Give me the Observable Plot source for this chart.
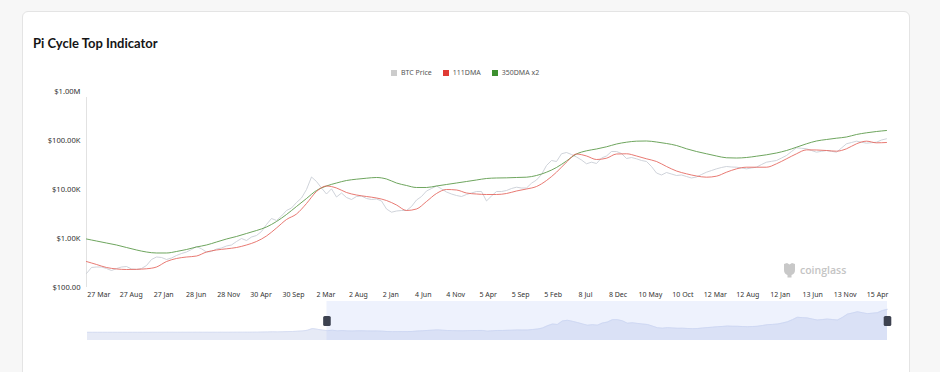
<!DOCTYPE html>
<html><head><meta charset="utf-8">
<script src="https://cdn.jsdelivr.net/npm/d3@7"></script>
<script src="https://cdn.jsdelivr.net/npm/@observablehq/plot@0.6"></script>
<style>
html,body{margin:0;padding:0}
body{background:#f7f7f7;width:940px;height:372px;overflow:hidden;position:relative;font-family:"Noto Sans",sans-serif}
#card{position:absolute;left:22px;top:11px;width:888px;height:372px;background:#fff;border:1px solid #e4e4e4;border-radius:6px;box-sizing:border-box}
#title{position:absolute;left:33px;top:35px;font-family:Lato,sans-serif;font-size:13px;font-weight:700;color:#151515;white-space:nowrap}
#legend{position:absolute;top:68px;left:391px;display:flex;align-items:center;font-size:7px;color:#555;white-space:nowrap;line-height:10px}
#legend .sq{width:6px;height:6px;display:inline-block;margin-right:4px}
#legend .it{display:flex;align-items:center;margin-right:11px}
.chart{position:absolute;left:0;top:0}
#wm{position:absolute;left:782px;top:262px;display:flex;align-items:center;color:#c4c4c4;font-family:"Open Sans",sans-serif;font-weight:600;font-size:10.5px}
</style></head>
<body>
<div id="card"></div>
<div id="title">Pi Cycle Top Indicator</div>
<div id="legend"></div>
<div id="c1" class="chart"></div>
<div id="c2" class="chart"></div>
<div id="wm"><svg width="15" height="16" viewBox="0 0 15 16"><path d="M2 2 L5 1 L7.5 2.5 L10 1 L13 2 L13 8 Q13 12 9.5 13 L9.5 15.5 L5.5 15.5 L5.5 13 Q2 12 2 8 Z" fill="#c8c8c8"/></svg><span style="margin-left:3px">coinglass</span></div>
<script>
// ---- data ----
const xLabels = ["27 Mar","27 Aug","27 Jan","28 Jun","28 Nov","30 Apr","30 Sep","2 Mar","2 Aug","2 Jan","4 Jun","4 Nov","5 Apr","5 Sep","5 Feb","8 Jul","8 Dec","10 May","10 Oct","12 Mar","12 Aug","12 Jan","13 Jun","13 Nov","15 Apr"];
const yTicks = [100, 1000, 10000, 100000, 1000000];
const yTickLabels = ["$100.00", "$1.00K", "$10.00K", "$100.00K", "$1.00M"];
const seriesNames = ["BTC Price", "111DMA", "350DMA x2"];
const zoomStartLabel = "2 Mar";

const btcPrice = [193,256,262,262,244,222,244,262,268,239,233,244,281,373,419,410,373,400,450,494,530,596,687,616,530,543,610,640,703,737,869,1000,910,1073,1151,1389,1931,2560,2330,2880,3728,4190,5429,6710,10000,18000,14560,10730,8090,10330,7030,8480,6866,6250,7197,7370,6551,6250,6400,5830,4000,3440,3640,3728,3728,4499,6100,7197,9320,10480,11790,10330,8890,8090,7543,7197,7906,8480,9103,9103,5830,7370,9103,9103,9541,10480,11140,10730,10730,13450,15630,20240,30890,39070,37280,53600,56900,51790,46100,40000,33500,36100,33930,43900,48300,59630,59630,54290,42920,44990,42300,39070,37280,29470,21700,19770,22230,20700,19310,19770,18420,17170,18000,20240,22540,24420,26400,28120,29470,28800,28500,27500,26400,27500,28500,32370,36100,37600,39070,43900,49420,59630,71000,69300,67800,62500,57700,60200,62500,60200,57700,70300,85700,91030,96900,92300,88100,90200,92300,102400,108300];
const dma111 = [339,295,256,239,233,235,241,262,339,391,419,439,530,583,616,655,737,869,1125,1638,2442,3160,5179,9103,11790,10730,8685,7720,7197,6710,5963,4830,3728,4000,5690,8286,10000,9770,8480,8090,7906,7906,8286,9320,10240,11510,15260,22540,36100,53000,48300,40950,43500,53000,53600,48300,42300,37280,29470,23850,20900,18860,17830,18700,22540,26400,28500,28500,28500,33500,42300,53600,64400,64000,62500,60500,67800,85700,96900,89700,91030];
const dma350x2 = [977,889,809,737,655,583,530,506,506,543,596,671,737,848,977,1100,1265,1456,1717,2223,3089,4499,6551,9541,11790,13570,15260,16230,17000,17580,16380,13570,12070,10990,10990,11790,12650,13570,14560,15630,16770,17170,17300,17580,17830,19310,22540,28120,38170,53000,61600,67100,74400,84800,92300,96900,97700,93200,86850,79060,67800,59630,53600,48300,44400,43900,44990,47800,51100,55600,62500,73000,85700,97700,104800,111400,117900,132600,143600,152600,160000];

const colors = {gray: "#c9ced6", red: "#e4635a", green: "#5e9b4c"};
const legendColors = ["#cccccc", "#e03b35", "#3c8f2f"];

// x is measured in tick-label units; data covers the span from T0 to T1
const T0 = -0.379, T1 = 24.274;
const toRows = (arr) => arr.map((v, i) => ({x: T0 + (T1 - T0) * i / (arr.length - 1), v}));
const priceRows = toRows(btcPrice), redRows = toRows(dma111), greenRows = toRows(dma350x2);

// legend
const lg = document.getElementById("legend");
seriesNames.forEach((n, i) => {
  const it = document.createElement("div"); it.className = "it";
  it.innerHTML = `<span class="sq" style="background:${legendColors[i]}"></span><span>${n}</span>`;
  lg.appendChild(it);
});

const font = {fontFamily: "'Noto Sans', sans-serif", fontSize: "7px", color: "#333", background: "transparent", overflow: "visible"};

const main = Plot.plot({
  width: 940, height: 372,
  marginLeft: 86, marginRight: 54, marginTop: 91, marginBottom: 85,
  style: font,
  x: {domain: [T0, T1]},
  y: {type: "log", domain: [100, 1e6]},
  marks: [
    Plot.ruleX([T0], {stroke: "#e2e2e2", strokeWidth: 1, y1: 100, y2: 1e6, insetBottom: -6}),
    Plot.line(priceRows, {x: "x", y: "v", stroke: colors.gray, strokeWidth: 0.9}),
    Plot.line(greenRows, {x: "x", y: "v", stroke: colors.green, strokeWidth: 1, curve: "monotone-x", strokeOpacity: 0.9}),
    Plot.line(redRows, {x: "x", y: "v", stroke: colors.red, strokeWidth: 1, curve: "monotone-x", strokeOpacity: 0.85}),
    Plot.axisY({ticks: yTicks, tickFormat: (d) => yTickLabels[yTicks.indexOf(d)], tickSize: 0, tickPadding: 6, fontSize: 7.6, label: null}),
    Plot.axisX({ticks: d3.range(xLabels.length), tickFormat: (i) => xLabels[i], tickSize: 0, tickPadding: 5, fontSize: 7, label: null})
  ]
});
document.getElementById("c1").appendChild(main);

// rounded handle symbol for the data-zoom slider
const handleSymbol = {
  draw(ctx, size) {
    const w = 3.8, h = 5, r = 1.6;
    ctx.moveTo(-w + r, -h); ctx.lineTo(w - r, -h); ctx.quadraticCurveTo(w, -h, w, -h + r);
    ctx.lineTo(w, h - r); ctx.quadraticCurveTo(w, h, w - r, h); ctx.lineTo(-w + r, h);
    ctx.quadraticCurveTo(-w, h, -w, h - r); ctx.lineTo(-w, -h + r); ctx.quadraticCurveTo(-w, -h, -w + r, -h);
    ctx.closePath();
  }
};

// data-zoom slider
const zs = xLabels.indexOf(zoomStartLabel);
const yMin = -38000, yMax = 145000;
const slider = Plot.plot({
  width: 940, height: 372,
  marginLeft: 87, marginRight: 53, marginTop: 301, marginBottom: 32,
  style: font,
  x: {domain: [T0, T1], axis: null},
  y: {domain: [yMin, yMax], axis: null},
  marks: [
    Plot.areaY(priceRows, {x: "x", y1: yMin, y2: "v", fill: "#e6eaf6"}),
    Plot.line(priceRows, {x: "x", y: "v", stroke: "#d3daf1", strokeWidth: 0.8}),
    Plot.rect([{x1: zs, x2: T1}], {x1: "x1", x2: "x2", y1: yMin, y2: yMax, fill: "#b3c4f5", fillOpacity: 0.22}),
    Plot.dot([zs, T1], {x: (d) => d, y: (yMin + yMax) / 2, symbol: handleSymbol, fill: "#3d4250"})
  ]
});
document.getElementById("c2").appendChild(slider);
</script>
</body></html>
